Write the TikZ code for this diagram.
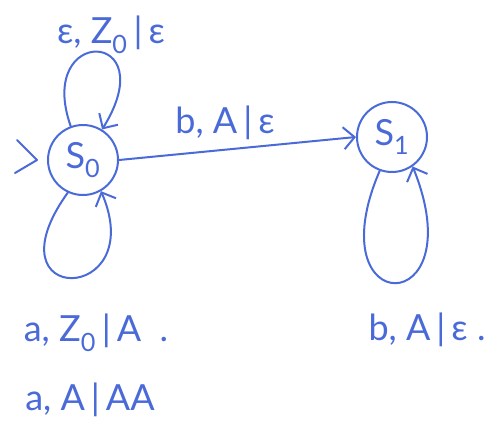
\documentclass[tikz,border=0pt]{standalone}
\usepackage{fontspec}
\setmainfont{Lato}
\usetikzlibrary{arrows.meta}
\definecolor{pen}{RGB}{74,106,216}
\newcommand{\br}{\,|\,}
\begin{document}
\begin{tikzpicture}[x=1pt,y=-1pt,
  state/.style={circle,draw=pen,line width=2pt,minimum size=70pt,inner sep=0pt,text=pen,font=\fontsize{36}{40}\selectfont},
  edge/.style={draw=pen,line width=2pt,line cap=round,-{Straight Barb[length=11pt,width=22pt,line width=2pt]}},
  lbl/.style={text=pen,font=\fontsize{36}{40}\selectfont,inner sep=0pt}]
\useasboundingbox (0,0) rectangle (500,426);
\node[state] (s0) at (83,160) {S\textsubscript{0}};
\node[state] (s1) at (392,137) {S\textsubscript{1}};
% start marker
\draw[pen,line width=2pt,line cap=round,line join=round]
  ([shift={(-30,-20)}]s0.west) -- ([shift={(-10,0)}]s0.west) -- ([shift={(-32,13)}]s0.west);
% transitions
\draw[edge] (s0.east) -- (s1.west);
\draw[edge] (s0.110) .. controls (35,25) and (165,28) .. (s0.58);
\draw[edge] (s0.-115) .. controls (-15,308) and (150,305) .. (s0.-60);
\draw[edge] (s1.-110) .. controls (315,321) and (475,321) .. (s1.-55);
% labels
\node[lbl] (l1) at (111,35) {ε, Z\textsubscript{0}\br ε};
\node[lbl] (l2) at (225,123) {b, A\br ε};
\node[lbl] (l3) at (96,333) {a, Z\textsubscript{0}\br A \ .};
\node[lbl] (l4) at (90,400) {a, A\br AA};
\node[lbl] (l5) at (427,330) {b, A\br ε .};
\end{tikzpicture}
\end{document}
